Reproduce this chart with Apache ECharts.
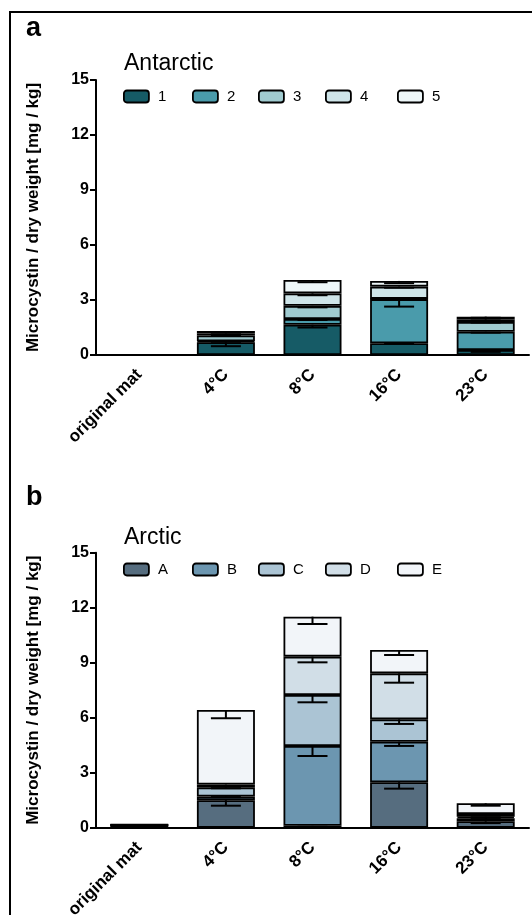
<!DOCTYPE html>
<html><head><meta charset="utf-8">
<script src="https://cdn.jsdelivr.net/npm/echarts@6/dist/echarts.min.js"></script>
<style>html,body{margin:0;padding:0;background:#fff}#c{width:532px;height:915px}</style>
</head><body><div id="c"></div>
<script>
// ---------- data ----------
const categories = ['original mat', '4°C', '8°C', '16°C', '23°C'];

// Panel a: Antarctic
const antNames = ['1', '2', '3', '4', '5'];
const ant1 = [0, 0.70, 1.65, 0.64, 0.27];
const ant2 = [0, 0.05, 0.31, 2.40, 1.00];
const ant3 = [0, 0.32, 0.72, 0.02, 0.53];
const ant4 = [0, 0.10, 0.68, 0.67, 0.14];
const ant5 = [0, 0.14, 0.73, 0.31, 0.15];
const antErr1 = [0, 0.22, 0.15, 0.04, 0.10];
const antErr2 = [0, 0.03, 0.05, 0.40, 0.05];
const antErr3 = [0, 0.03, 0.08, 0.00, 0.03];
const antErr4 = [0, 0.05, 0.10, 0.06, 0.06];
const antErr5 = [0, 0.08, 0.12, 0.12, 0.06];

// Panel b: Arctic
const arcNames = ['A', 'B', 'C', 'D', 'E'];
const arcA = [0.12, 1.50, 0.10, 2.48, 0.35];
const arcB = [0.02, 0.20, 4.36, 2.21, 0.17];
const arcC = [0.01, 0.50, 2.78, 1.22, 0.08];
const arcD = [0.01, 0.15, 2.09, 2.51, 0.15];
const arcE = [0.01, 4.07, 2.18, 1.27, 0.58];
const arcErrA = [0, 0.30, 0.05, 0.35, 0.10];
const arcErrB = [0, 0.03, 0.55, 0.23, 0.05];
const arcErrC = [0, 0.05, 0.40, 0.25, 0.03];
const arcErrD = [0, 0.10, 0.31, 0.51, 0.05];
const arcErrE = [0, 0.45, 0.40, 0.27, 0.13];

const yMin = 0, yMax = 15, yStep = 3;
const axisName = 'Microcystin / dry weight [mg / kg]';

// ---------- styling ----------
const antColors = ['#165b66', '#4a9bab', '#a0cbd0', '#cfe5e9', '#eef7f9'];
const arcColors = ['#566d7f', '#6c96b0', '#abc4d4', '#d1dee7', '#f2f5f9'];
const FONT = 'Liberation Sans, Arial, Helvetica, sans-serif';

const antSeriesVals = [ant1, ant2, ant3, ant4, ant5];
const antErrVals = [antErr1, antErr2, antErr3, antErr4, antErr5];
const arcSeriesVals = [arcA, arcB, arcC, arcD, arcE];
const arcErrVals = [arcErrA, arcErrB, arcErrC, arcErrD, arcErrE];

function errData(vals, errs) {
  const out = [];
  const cum = categories.map(() => 0);
  vals.forEach((arr, s) => {
    arr.forEach((v, i) => {
      cum[i] += v;
      if (errs[s][i] > 0) out.push([i, cum[i], cum[i] - errs[s][i]]);
    });
  });
  return out;
}

function renderErr(params, api) {
  const top = api.coord([api.value(0), api.value(1)]);
  const bot = api.coord([api.value(0), api.value(2)]);
  const hw = 15;
  const st = { stroke: '#000', lineWidth: 2 };
  return {
    type: 'group',
    children: [
      { type: 'line', shape: { x1: top[0], y1: top[1], x2: bot[0], y2: bot[1] }, style: st },
      { type: 'line', shape: { x1: bot[0] - hw, y1: bot[1], x2: bot[0] + hw, y2: bot[1] }, style: st }
    ]
  };
}

function barSeries(names, vals, colors, idx, stack) {
  return names.map((n, s) => ({
    name: n, type: 'bar', stack: stack, xAxisIndex: idx, yAxisIndex: idx,
    data: vals[s], barWidth: 58,
    itemStyle: { color: colors[s], borderColor: '#000', borderWidth: 1.8 },
    emphasis: { disabled: true }
  }));
}

const gridLeft = 96, gridRight = 3;
const grids = [
  { left: gridLeft, right: gridRight, top: 80, height: 275, outerBoundsMode: 'none', containLabel: false },
  { left: gridLeft, right: gridRight, top: 552.7, height: 275, outerBoundsMode: 'none', containLabel: false }
];

function xAx(idx) {
  return {
    type: 'category', gridIndex: idx, data: categories,
    axisLine: { lineStyle: { color: '#000', width: 2 } },
    axisTick: { alignWithLabel: true, length: 7, lineStyle: { color: '#000', width: 2 } },
    axisLabel: { rotate: 45, color: '#000', fontWeight: 'bold', fontSize: 17, fontFamily: FONT, margin: 17, interval: 0 }
  };
}
function yAx(idx) {
  return {
    type: 'value', gridIndex: idx, min: yMin, max: yMax, interval: yStep,
    name: axisName, nameLocation: 'middle', nameGap: 54,
    nameTextStyle: { color: '#000', fontWeight: 'bold', fontSize: 17, fontFamily: FONT },
    axisLine: { show: true, lineStyle: { color: '#000', width: 2 } },
    axisTick: { show: true, length: 6, lineStyle: { color: '#000', width: 2 } },
    axisLabel: { color: '#000', fontWeight: 'bold', fontSize: 16, fontFamily: FONT, margin: 7 },
    splitLine: { show: false }
  };
}

const legendX = [123, 192, 258, 325, 397];
function legends(names, top) {
  return names.map((n, i) => ({
    data: [n], left: legendX[i], top: top, padding: 0,
    itemWidth: 25, itemHeight: 12, itemGap: 0, selectedMode: false,
    itemStyle: { borderColor: '#000', borderWidth: 1.8 },
    textStyle: { color: '#000', fontSize: 15, fontFamily: FONT, padding: [0, 0, 0, 4] }
  }));
}

const option = {
  animation: false,
  backgroundColor: '#fff',
  grid: grids,
  xAxis: [xAx(0), xAx(1)],
  yAxis: [yAx(0), yAx(1)],
  title: [
    { text: 'a', left: 26, top: 15, padding: 0, textStyle: { fontSize: 27, fontWeight: 'bold', color: '#000', fontFamily: FONT } },
    { text: 'Antarctic', left: 124, top: 52, padding: 0, textStyle: { fontSize: 23, fontWeight: 'normal', color: '#000', fontFamily: FONT } },
    { text: 'b', left: 26, top: 484, padding: 0, textStyle: { fontSize: 27, fontWeight: 'bold', color: '#000', fontFamily: FONT } },
    { text: 'Arctic', left: 124, top: 526, padding: 0, textStyle: { fontSize: 23, fontWeight: 'normal', color: '#000', fontFamily: FONT } }
  ],
  legend: legends(antNames, 89).concat(legends(arcNames, 562)),
  graphic: [
    { type: 'rect', shape: { x: 10, y: 12, width: 600, height: 1000 }, style: { fill: 'none', stroke: '#000', lineWidth: 2 }, silent: true }
  ],
  series: [].concat(
    barSeries(antNames, antSeriesVals, antColors, 0, 'ant'),
    barSeries(arcNames, arcSeriesVals, arcColors, 1, 'arc'),
    [
      { type: 'custom', xAxisIndex: 0, yAxisIndex: 0, data: errData(antSeriesVals, antErrVals), renderItem: renderErr, z: 10, encode: { x: 0, y: [1, 2] }, silent: true },
      { type: 'custom', xAxisIndex: 1, yAxisIndex: 1, data: errData(arcSeriesVals, arcErrVals), renderItem: renderErr, z: 10, encode: { x: 0, y: [1, 2] }, silent: true }
    ]
  )
};

const chart = echarts.init(document.getElementById('c'), null, { renderer: 'canvas' });
chart.setOption(option);
</script>
</body></html>
